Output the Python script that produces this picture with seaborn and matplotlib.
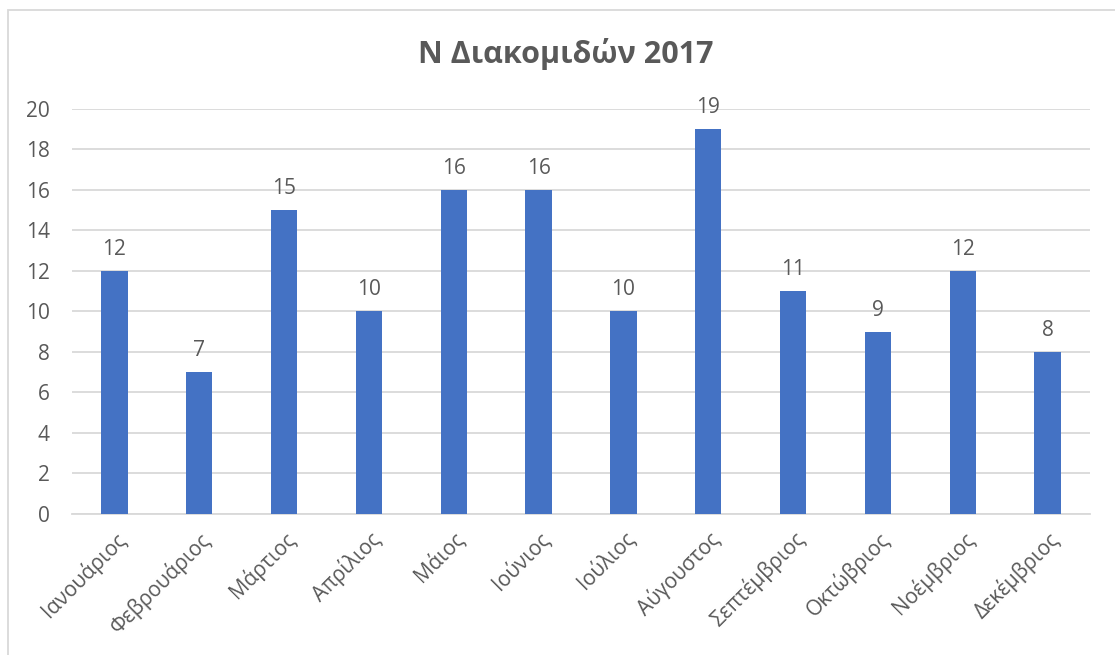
import matplotlib
matplotlib.use("Agg")
import matplotlib.pyplot as plt
import seaborn as sns
import pandas as pd
from matplotlib.patches import Rectangle

months = ["Ιανουάριος", "Φεβρουάριος", "Μάρτιος", "Απρίλιος", "Μάιος", "Ιούνιος",
          "Ιούλιος", "Αύγουστος", "Σεπτέμβριος", "Οκτώβριος", "Νοέμβριος", "Δεκέμβριος"]
transfers = [12, 7, 15, 10, 16, 16, 10, 19, 11, 9, 12, 8]
y_ticks = [0, 2, 4, 6, 8, 10, 12, 14, 16, 18, 20]
title = "Ν Διακομιδών 2017"

sns.set_style("white")
plt.rcParams["font.family"] = ["Open Sans", "Noto Sans", "DejaVu Sans"]

text_color = "#595959"
bar_color = "#4472C4"
grid_color = "#D9D9D9"

df = pd.DataFrame({"month": months, "count": transfers})

fig = plt.figure(figsize=(11.15, 6.55), dpi=100)
ax = fig.add_axes([0.0646, 0.2153, 0.913, 0.6183])

sns.barplot(data=df, x="month", y="count", color=bar_color, width=0.31,
            saturation=1, linewidth=0, ax=ax, zorder=3)

ax.set_ylim(0, 20)
ax.set_xlim(-0.5, len(months) - 0.5)
ax.set_yticks(y_ticks)
ax.yaxis.grid(True, color=grid_color, linewidth=1.3, zorder=0)
ax.set_axisbelow(True)
for side in ["top", "right", "left"]:
    ax.spines[side].set_visible(False)
ax.spines["bottom"].set_color(grid_color)
ax.spines["bottom"].set_linewidth(1.3)
ax.tick_params(axis="both", length=0, labelsize=15, colors=text_color)
ax.tick_params(axis="y", pad=16)
ax.set_xlabel("")
ax.set_ylabel("")
plt.setp(ax.get_xticklabels(), rotation=45, ha="right", rotation_mode="anchor")
ax.tick_params(axis="x", pad=10)

for container in ax.containers:
    ax.bar_label(container, labels=[str(v) for v in transfers], padding=8,
                 fontsize=15, color=text_color)

fig.text(0.507, 0.918, title, ha="center", va="center", fontsize=22,
         fontweight="bold", color=text_color)

# chart frame
fig.patches.append(Rectangle((8 / 1115, -0.1), 1.2, 1 - 10 / 655 + 0.1,
                             transform=fig.transFigure, fill=False,
                             edgecolor="#D9D9D9", linewidth=1.3))

fig.savefig("out.png", dpi=100)
